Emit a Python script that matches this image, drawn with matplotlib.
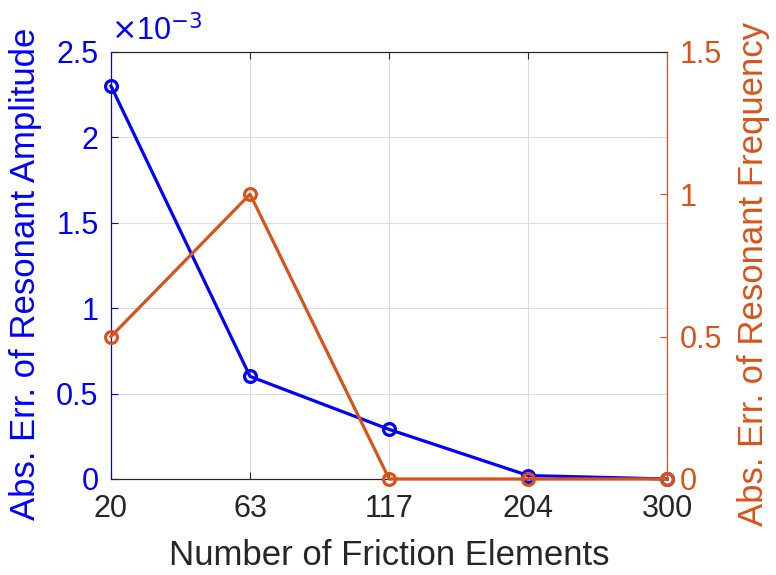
import matplotlib.pyplot as plt

plt.rcParams['font.family'] = ['Liberation Sans', 'DejaVu Sans']

# data
elements = ["20", "63", "117", "204", "300"]
amp_err = [2.3e-3, 0.6e-3, 0.29e-3, 0.02e-3, 0.0]   # left axis
freq_err = [0.5, 1.0, 0.0, 0.0, 0.0]                 # right axis

left_ticks = [0, 0.5e-3, 1.0e-3, 1.5e-3, 2.0e-3, 2.5e-3]
left_ticklabels = ["0", "0.5", "1", "1.5", "2", "2.5"]
right_ticks = [0, 0.5, 1, 1.5]
right_ticklabels = ["0", "0.5", "1", "1.5"]

BLUE = (0, 0, 1)
ORANGE = (0.85, 0.325, 0.098)
DARK = "#262626"

fig = plt.figure(figsize=(7.76, 5.75), dpi=100)
ax = fig.add_axes([0.143, 0.167, 0.717, 0.743])
ax2 = ax.twinx()

x = list(range(len(elements)))

ax.plot(x, amp_err, color=BLUE, lw=2.3, marker="o", ms=8.5, mfc="none", mew=2.3,
        clip_on=False, zorder=3)
ax2.plot(x, freq_err, color=ORANGE, lw=2.3, marker="o", ms=8.5, mfc="none", mew=2.3,
         clip_on=False, zorder=3)

ax.set_xlim(0, len(elements) - 1)
ax.set_xticks(x)
ax.set_xticklabels(elements)
ax.set_ylim(0, 2.5e-3)
ax.set_yticks(left_ticks)
ax.set_yticklabels(left_ticklabels)
ax2.set_ylim(0, 1.5)
ax2.set_yticks(right_ticks)
ax2.set_yticklabels(right_ticklabels)

ax.grid(True, color="#dcdce6", lw=0.8)
ax.set_axisbelow(True)

ax.tick_params(axis="x", direction="in", top=True, labelsize=22, colors=DARK,
               length=5, pad=11)
ax.tick_params(axis="y", direction="in", labelsize=22, colors=BLUE, length=5, pad=9)
ax2.tick_params(axis="y", direction="in", labelsize=22, colors=ORANGE, length=5, pad=9)

for a in (ax, ax2):
    a.spines["top"].set_color(DARK)
    a.spines["bottom"].set_color(DARK)
    a.spines["left"].set_color(BLUE)
    a.spines["right"].set_color(ORANGE)

ax.set_xlabel("Number of Friction Elements", fontsize=25, color=DARK)
ax.set_ylabel("Abs. Err. of Resonant Amplitude", fontsize=25, color=BLUE)
ax2.set_ylabel("Abs. Err. of Resonant Frequency", fontsize=25, color=ORANGE)

# place the labels where the reference has them
ax.xaxis.label.set_va("center")
ax.xaxis.set_label_coords(0.5, -0.178)
ax.yaxis.label.set_va("center")
ax.yaxis.set_label_coords(-0.153, 0.48)
ax2.yaxis.label.set_va("center")
ax2.yaxis.set_label_coords(1.155, 0.48)

ax.text(0.0, 1.01, r"$\times$10$^{-3}$", transform=ax.transAxes, fontsize=22,
        color=BLUE, ha="left", va="bottom")

fig.savefig("out.png", dpi=100)
